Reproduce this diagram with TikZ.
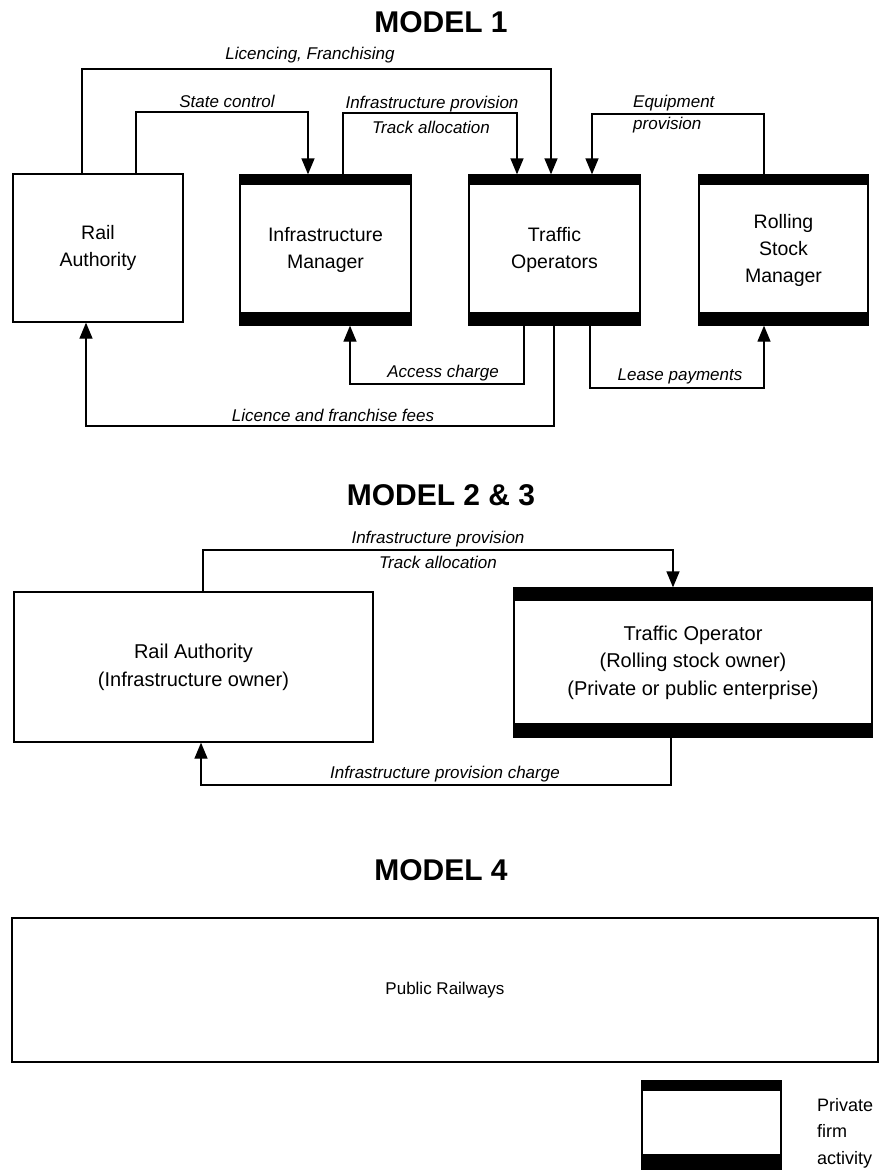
\documentclass[tikz,border=0pt]{standalone}
\usepackage{fontspec}
\setmainfont{Liberation Sans}
\usetikzlibrary{arrows.meta}
\begin{document}
\begin{tikzpicture}[x=1pt,y=-1pt,
  box/.style={draw,line width=1.3pt,rectangle,inner sep=0pt,align=center,font=\fontsize{19.5}{27}\selectfont},
  private/.style={path picture={
     \fill ([yshift=0pt]path picture bounding box.north west) rectangle ([yshift=-10pt]path picture bounding box.north east);
     \fill (path picture bounding box.south west) rectangle ([yshift=13pt]path picture bounding box.south east);}},
  conn/.style={line width=1.3pt},
  arr/.style={conn,-{Triangle[length=16pt,width=13pt]}},
  lbl/.style={font=\fontsize{17}{19}\selectfont\itshape,inner sep=0pt},
  title/.style={font=\fontsize{30}{32}\selectfont\bfseries,inner sep=0pt}]
\useasboundingbox (0,0) rectangle (881,1171);

% ---------- MODEL 1 ----------
\node[title] (t1) at (441,22) {MODEL 1};
\node[box,minimum width=170pt,minimum height=148pt] (ra1) at (98,248) {Rail\\Authority};
\node[box,private,minimum width=171pt,minimum height=150pt] (im1) at (325.5,250) {Infrastructure\\Manager};
\node[box,private,minimum width=171pt,minimum height=150pt] (to1) at (554.5,250) {Traffic\\Operators};
\node[box,private,minimum width=169pt,minimum height=150pt] (rs1) at (783.5,250) {Rolling\\Stock\\Manager};

\coordinate (c1) at (82,69);   \coordinate (c1e) at (551,69);
\coordinate (c2) at (136,112); \coordinate (c2e) at (308,112);
\coordinate (c3) at (343,113); \coordinate (c3e) at (517,113);
\coordinate (c4) at (764,114); \coordinate (c4e) at (592,114);
\coordinate (c5) at (524,384); \coordinate (c5e) at (350,384);
\coordinate (c6) at (554,426); \coordinate (c6e) at (86,426);
\coordinate (c7) at (590,388); \coordinate (c7e) at (764,388);

\draw[arr] (ra1.north -| c1) -- (c1) -- (c1e) -- (to1.north -| c1e);
\draw[arr] (ra1.north -| c2) -- (c2) -- (c2e) -- (im1.north -| c2e);
\draw[arr] (im1.north -| c3) -- (c3) -- (c3e) -- (to1.north -| c3e);
\draw[arr] (rs1.north -| c4) -- (c4) -- (c4e) -- (to1.north -| c4e);
\draw[arr] (to1.south -| c5) -- (c5) -- (c5e) -- (im1.south -| c5e);
\draw[arr] (to1.south -| c6) -- (c6) -- (c6e) -- (ra1.south -| c6e);
\draw[arr] (to1.south -| c7) -- (c7) -- (c7e) -- (rs1.south -| c7e);

\node[lbl] (l1) at (310,55) {Licencing, Franchising};
\node[lbl] (l2) at (227,101) {State control};
\node[lbl] (l3) at (432,104) {Infrastructure provision};
\node[lbl] (l4) at (431,127) {Track allocation};
\node[lbl,anchor=west] (l5) at (633,103) {Equipment};
\node[lbl,anchor=west] (l6) at (633,125) {provision};
\node[lbl] (l7) at (443,373) {Access charge};
\node[lbl] (l8) at (680,376) {Lease payments};
\node[lbl] (l9) at (333,415) {Licence and franchise fees};

% ---------- MODEL 2 & 3 ----------
\node[title] (t2) at (441,495) {MODEL 2 \& 3};
\node[box,minimum width=359pt,minimum height=150pt,font=\fontsize{20}{28}\selectfont] (ra2) at (193.5,667) {Rail Authority\\(Infrastructure owner)};
\node[box,minimum width=358pt,minimum height=149pt,font=\fontsize{20}{27.5}\selectfont,
  path picture={
     \fill (path picture bounding box.north west) rectangle ([yshift=-13pt]path picture bounding box.north east);
     \fill (path picture bounding box.south west) rectangle ([yshift=14pt]path picture bounding box.south east);}] (to2) at (693,662.5) {Traffic Operator\\(Rolling stock owner)\\(Private or public enterprise)};

\coordinate (d1) at (203,550); \coordinate (d1e) at (673,550);
\coordinate (d2) at (671,785); \coordinate (d2e) at (201,785);
\draw[arr] (ra2.north -| d1) -- (d1) -- (d1e) -- (to2.north -| d1e);
\draw[arr] (to2.south -| d2) -- (d2) -- (d2e) -- (ra2.south -| d2e);

\node[lbl] (m1) at (438,539) {Infrastructure provision};
\node[lbl] (m2) at (438,562) {Track allocation};
\node[lbl] (m3) at (445,774) {Infrastructure provision charge};

% ---------- MODEL 4 ----------
\node[title] (t3) at (441,870) {MODEL 4};
\node[box,minimum width=866pt,minimum height=144pt,font=\fontsize{17}{20}\selectfont] (pr4) at (445,990) {Public Railways};

% ---------- Legend ----------
\node[box,minimum width=139pt,minimum height=89pt,
  path picture={
     \fill (path picture bounding box.north west) rectangle ([yshift=-10pt]path picture bounding box.north east);
     \fill (path picture bounding box.south west) rectangle ([yshift=16pt]path picture bounding box.south east);}] (lg) at (711.5,1125) {};
\node[anchor=west,align=left,inner sep=0pt,font=\fontsize{18}{26.5}\selectfont] (lgt) at (817,1133) {Private\\firm\\activity};
\end{tikzpicture}
\end{document}
